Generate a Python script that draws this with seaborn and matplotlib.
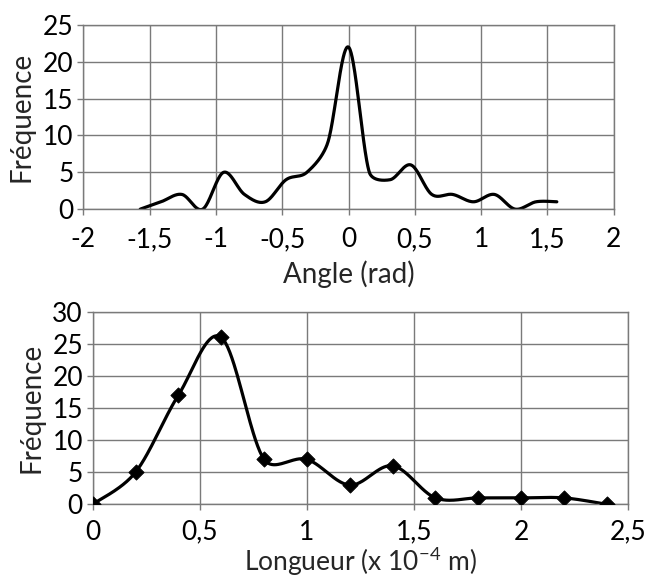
import numpy as np
import pandas as pd
import matplotlib
matplotlib.use('Agg')
import matplotlib.pyplot as plt
import matplotlib.ticker as mticker
import seaborn as sns

# Data
angle_rad = [-1.571, -1.414, -1.257, -1.100, -0.942, -0.785, -0.628, -0.471, -0.314, -0.157,
             0.0, 0.157, 0.314, 0.471, 0.628, 0.785, 0.942, 1.100, 1.257, 1.414, 1.571]
angle_freq = [0, 1, 2, 0, 5, 2, 1, 4, 5, 9, 22, 5, 4, 6, 2, 2, 1, 2, 0, 1, 1]

length = [0, 0.2, 0.4, 0.6, 0.8, 1.0, 1.2, 1.4, 1.6, 1.8, 2.0, 2.2, 2.4]
length_freq = [0, 5, 17, 26, 7, 7, 3, 6, 1, 1, 1, 1, 0]


def smooth(x, y, sx, sy, n=40, k=0.4):
    # Excel-like smoothed line: Catmull-Rom handles, capped by the
    # length of the segment they sit on (in screen units)
    p = np.column_stack([np.asarray(x, float) * sx, np.asarray(y, float) * sy])
    m = len(p)
    h = np.array([(p[min(i + 1, m - 1)] - p[max(i - 1, 0)]) / 6 for i in range(m)])
    t = np.linspace(0, 1, n, endpoint=False)[:, None]
    out = []
    for i in range(m - 1):
        p1, p2 = p[i], p[i + 1]
        L = np.hypot(*(p2 - p1))
        h1, h2 = h[i], h[i + 1]
        n1, n2 = np.hypot(*h1), np.hypot(*h2)
        if n1 > k * L:
            h1 = h1 * k * L / n1
        if n2 > k * L:
            h2 = h2 * k * L / n2
        c1 = p1 + h1
        c2 = p2 - h2
        seg = ((1 - t) ** 3) * p1 + 3 * ((1 - t) ** 2) * t * c1 + 3 * (1 - t) * t ** 2 * c2 + t ** 3 * p2
        out.append(seg)
    out.append(p[-1][None, :])
    out = np.vstack(out)
    return pd.DataFrame({'x': out[:, 0] / sx, 'y': out[:, 1] / sy})


sns.set_theme(style="white")
plt.rcParams['font.family'] = ['Lato', 'DejaVu Sans']

fig = plt.figure(figsize=(6.46, 5.81), dpi=100)
ax1 = fig.add_axes([0.129, 0.640, 0.821, 0.317])
ax2 = fig.add_axes([0.1435, 0.132, 0.829, 0.3315])

for ax in (ax1, ax2):
    ax.grid(True, color='#7a7a7a', linewidth=1.0)
    ax.set_axisbelow(True)
    for s in ax.spines.values():
        s.set_color('#7a7a7a')
        s.set_linewidth(1.0)
    ax.tick_params(axis='both', direction='out', length=4, width=1, color='#7a7a7a',
                   bottom=True, left=True, pad=3, labelsize=19, labelcolor='black')
    ax.xaxis.set_major_formatter(mticker.FuncFormatter(lambda v, pos: f'{v:g}'.replace('.', ',')))

# Top chart: angle distribution
d1 = smooth(angle_rad, angle_freq, 531 / 4, 184 / 25)
sns.lineplot(data=d1, x='x', y='y', ax=ax1, color='black', linewidth=2.3, sort=False, estimator=None)
ax1.set_xlim(-2, 2)
ax1.set_ylim(0, 25)
ax1.set_xticks(np.arange(-2, 2.01, 0.5))
ax1.set_yticks(np.arange(0, 26, 5))
ax1.tick_params(axis='x', pad=9)
ax1.set_xlabel('Angle (rad)', fontsize=20, labelpad=6)
ax1.set_ylabel('Fréquence', fontsize=20, labelpad=6)

# Bottom chart: length distribution
d2 = smooth(length, length_freq, 536 / 2.5, 193 / 30)
sns.lineplot(data=d2, x='x', y='y', ax=ax2, color='black', linewidth=2.3, sort=False, estimator=None)
sns.scatterplot(x=length, y=length_freq, ax=ax2, marker='D', s=60, color='black',
                edgecolor='black', zorder=5)
ax2.set_xlim(0, 2.5)
ax2.set_ylim(0, 30)
ax2.set_xticks(np.arange(0, 2.51, 0.5))
ax2.set_yticks(np.arange(0, 31, 5))
ax2.tick_params(axis='x', pad=7)
ax2.set_xlabel(r'Longueur (x 10$^{\mathregular{-4}}$ m)', fontsize=19, labelpad=0)
ax2.set_ylabel('Fréquence', fontsize=20, labelpad=6)

fig.savefig('out.png', dpi=100)
